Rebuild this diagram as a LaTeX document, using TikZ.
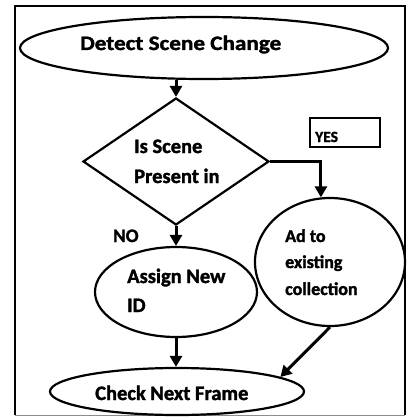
\documentclass[tikz,border=0pt]{standalone}
\usepackage{fontspec}
\setmainfont{Carlito}[BoldFeatures={FakeBold=1.6}]
\usetikzlibrary{shapes.geometric,arrows.meta}
\tikzset{
  outline/.style={draw=black,line width=2.2pt,inner sep=0pt},
  oval/.style={outline,ellipse},
  decision/.style={outline,diamond},
  flow/.style={line width=3pt,-{Triangle[length=11pt,width=12pt]}},
  lbl/.style={anchor=base west,inner sep=0pt,font=\bfseries\fontsize{20.5}{24}\selectfont},
  sidelbl/.style={anchor=base west,inner sep=0pt,font=\bfseries\fontsize{18}{21}\selectfont},
}
\begin{document}
\begin{tikzpicture}[x=1pt,y=-1pt]
\useasboundingbox (0,0) rectangle (409,417);
% outer frame
\draw[line width=2pt] (15,415) -- (15,6) -- (405,6) -- (405,415);
\draw[line width=0.8pt,black!45] (15,415.5) -- (405,415.5);

% shapes
\node[oval,minimum width=368pt,minimum height=62pt] (detect) at (204,48) {};
\node[decision,minimum width=186pt,minimum height=127pt] (present) at (176,161.5) {};
\node[draw,line width=2pt,minimum width=70pt,minimum height=29pt,inner sep=0pt] (yes) at (345,132.5) {};
\node[oval,minimum width=162pt,minimum height=90pt] (assign) at (176,292) {};
\node[oval,minimum width=150pt,minimum height=128pt] (addto) at (330,262) {};
\node[oval,minimum width=254pt,minimum height=47pt] (check) at (177,391.5) {};

% texts
\node[lbl] (t1) at (80,50) {\scalebox{1.13}[1]{Detect Scene Change}};
\node[lbl] (t2a) at (134,153) {Is Scene};
\node[lbl] (t2b) at (134,183) {Present in};
\node[anchor=base west,inner sep=0pt,font=\bfseries\fontsize{15.5}{18}\selectfont] (t3) at (315,142) {YES};
\node[anchor=base west,inner sep=0pt,font=\bfseries\fontsize{19}{22}\selectfont] (t4) at (113,242) {NO};
\node[lbl] (t5a) at (127,283) {Assign New};
\node[lbl] (t5b) at (127,312) {ID};
\node[sidelbl] (t6a) at (285,242) {Ad to};
\node[sidelbl] (t6b) at (285,268) {existing};
\node[sidelbl] (t6c) at (285,295) {collection};
\node[lbl] (t7) at (95,400) {Check Next Frame};

% connectors
\draw[flow] (present.north |- detect.south) -- (present.north);
\draw[flow] (present.south) -- (assign.north);
\draw[flow] (present.east) -| (addto.98);
\draw[flow] (assign.south) -- (check.north -| assign.south);
\draw[flow] (addto.south) -- (check.8);
\end{tikzpicture}
\end{document}
